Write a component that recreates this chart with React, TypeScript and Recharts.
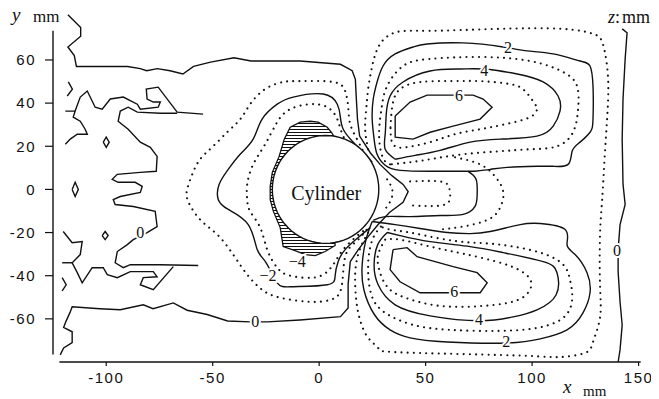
import React from "react";
import { ScatterChart, Scatter, XAxis, YAxis, ReferenceLine } from "recharts";

type Pt = [number, number];

const xTicks = [-100, -50, 0, 50, 100, 150];
const yTicks = [-60, -40, -20, 0, 20, 40, 60];

// z = 0 line in front of the cylinder (top edge -> pocket -> bottom edge)
const zeroFront: Pt[] = [
  [-118, 81], [-116, 79], [-112, 75], [-112, 71], [-118, 66], [-115, 62], [-114, 57], [-103, 57],
  [-90, 57], [-84, 56], [-81, 55], [-76, 56], [-70, 55], [-64, 53.5], [-59, 57], [-51, 59], [-40, 61],
  [-32, 59.5], [-9, 59.5], [10, 58], [15.5, 55], [17, 51], [17.4, 43], [18, 32.5], [19, 24.7], [24, 17],
  [28.6, 11.6], [34, 6.5], [39.4, 2.3], [41.8, -1], [39.4, -6], [33, -10.7], [27.7, -16.3], [23, -21.9],
  [18.3, -28], [14.6, -33.5], [13.6, -44], [13.6, -55], [10, -59], [-9, -60.5], [-24.4, -61.4],
  [-32.4, -61.4], [-43, -61], [-52.6, -58], [-62, -56], [-68.5, -52.6], [-78, -55.3], [-82.6, -53.5],
  [-93.4, -55.8], [-103, -55.3], [-116, -54.4], [-117, -57], [-119, -61.4], [-120, -64], [-116, -66],
  [-116, -71], [-120, -73.5], [-121.6, -76.7],
];

// wiggly z = 0 lines upstream
const leftWiggleTop: Pt[] = [
  [-119.2, 20.9], [-116.9, 23.3], [-113.6, 25.6], [-108.9, 25.6], [-109.9, 27.9], [-112.2, 31.6],
  [-115.5, 33.5], [-114.6, 36.3], [-112.2, 42.8], [-108.9, 45.6], [-105.2, 38.1], [-101.9, 37.2],
  [-98.1, 41.9], [-92, 42.8], [-85.4, 39.5], [-84, 37.2], [-75.6, 38.1], [-74.6, 40.5], [-77.9, 40.5],
  [-80.8, 41.9], [-81.2, 46.5], [-75.6, 47.4], [-66.7, 35.8], [-54.5, 34.9],
];
const leftStubTop: Pt[] = [[-119.2, 36.3], [-114.6, 36.3]];
const leftTickTop: Pt[] = [[-117.8, 49.8], [-115.9, 46.5], [-118.3, 43.3]];
const leftBlob: Pt[] = [
  [-66.7, 35.3], [-74.6, 35.3], [-85.4, 35.8], [-89.7, 38.1], [-93.4, 36.3], [-94.4, 31.6], [-89.7, 27.9],
  [-84, 21.9], [-79.3, 19.5], [-76.1, 15.3], [-76.5, 8.4], [-84, 7.9], [-94.8, 7], [-97.2, 4.7],
  [-94.4, 3.3], [-86.4, 3.3], [-83.1, 1.4], [-84, -1.4], [-93.4, -3.3], [-96.7, -4.7], [-95.8, -7],
  [-87.3, -7.9], [-77, -10.2], [-76.1, -17.2], [-80.8, -20], [-87.3, -23.3], [-90.1, -25.6],
  [-94.8, -28.8], [-95.8, -34], [-92, -36.3], [-88.7, -34.9], [-74.6, -34.9], [-56.8, -35.3],
];
const leftWiggleBottom: Pt[] = [
  [-120.2, -19.5], [-116, -24.7], [-111.3, -24.2], [-112.2, -30.2], [-116, -34], [-113.6, -38.6],
  [-111.3, -43.3], [-106.6, -36.3], [-101.4, -36.3], [-99.5, -39.5], [-94.8, -40.9], [-88.7, -38.1],
  [-77.9, -38.1], [-76.1, -40.5], [-82.6, -40.9], [-84, -44.2], [-77.9, -46.5], [-68.5, -35.8],
];
const leftStubBottom: Pt[] = [[-120.7, -34], [-116, -34]];
const leftTickBottom: Pt[] = [[-120.7, -40.9], [-118.8, -44.2], [-120.7, -47]];
const islandA: Pt[] = [[-101.4, 21.9], [-100, 24.2], [-98.6, 21.9], [-100, 19.5], [-101.4, 21.9]];
const islandB: Pt[] = [[-116, 0], [-114.6, 3.3], [-113.1, 0], [-114.6, -3.3], [-116, 0]];
const islandC: Pt[] = [[-101.9, -21.4], [-100.5, -19.5], [-99.1, -21.4], [-100.5, -23.3], [-101.9, -21.4]];

// negative levels around the front of the cylinder
const minus1: Pt[] = [
  [23.5, 13.5], [20.5, 18], [17.8, 23.3], [14.6, 30.2], [13.6, 38.6], [12.2, 45.6], [6.6, 49.8],
  [-8.9, 50.2], [-16.9, 49.8], [-25.4, 46.5], [-32.4, 39.5], [-37, 32.6], [-42.7, 27], [-49.8, 20],
  [-55.9, 14], [-59.6, 7], [-62, 0], [-61.5, -5.6], [-55.9, -14], [-47.9, -20.9], [-40.4, -30.2],
  [-33.8, -39.5], [-26.8, -46.5], [-18.3, -50.2], [-4.2, -52.1], [5.2, -51.2], [9.9, -47.4],
  [11.3, -38.1], [13.1, -28.8], [18.3, -23.3], [23, -17.7],
];
const minus2: Pt[] = [
  [24.9, 12.6], [20.7, 17.2], [16, 21.9], [11.3, 27.9], [9.9, 34], [8.5, 39.5], [1.9, 44.2],
  [-12.2, 42.8], [-19.7, 39.5], [-26.8, 32.6], [-31, 23.3], [-37.1, 16.3], [-42.7, 9.3], [-47, 2.3],
  [-47.4, -4.7], [-42.7, -9.3], [-33.3, -16.3], [-29.1, -27.9], [-24.9, -34], [-19.7, -43.3],
  [-12.2, -45.1], [3.8, -44.2], [7.5, -40], [8.9, -33.5], [12.2, -27.9], [18.3, -22.3], [24, -17.7],
];
const minus3: Pt[] = [
  [21.6, 14], [16, 18.6], [11.3, 24.7], [8.5, 32.6], [3.8, 38.1], [-4.2, 39.5], [-13.6, 37.2],
  [-19.7, 31.2], [-25.4, 20.9], [-31, 11.6], [-33.8, 2.3], [-33.8, -4.7], [-32.4, -10.2],
  [-27.7, -17.7], [-24.4, -27.9], [-19.7, -36.3], [-13.6, -40], [-2.8, -40.9], [3.8, -38.1],
  [7.5, -33.5], [11.3, -27.9], [16.9, -22.3], [21.6, -18.6],
];
const hatchRegion: Pt[] = [
  [7.5, 23.3], [6.1, 26], [3.8, 28.8], [-0.5, 31.2], [-4.2, 31.6], [-8.9, 31.2], [-13.6, 28.8],
  [-16.4, 23.3], [-18.8, 15.3], [-22, 7.9], [-23, 1.4], [-23, -4.7], [-21.5, -10.2], [-18.3, -17.7],
  [-16.9, -26.5], [-11.3, -28.4], [-6.6, -30.2], [-1.9, -30.7], [2.8, -28.8], [7.5, -26], [5, 0],
  [7.5, 23.3],
];

// positive lobes behind the cylinder
const upper2: Pt[] = [
  [73.2, 8.4], [64.8, 8.4], [52.1, 8.4], [38, 8.8], [31, 11.2], [27.2, 16.3], [25.8, 23.3], [24.9, 32.6],
  [25.4, 41.9], [27.2, 49.8], [30, 57.2], [35.7, 62.8], [44.1, 66], [50.7, 67.4], [67.6, 67.9],
  [86.4, 66], [97.7, 64.2], [109.9, 62.8], [122.5, 59.5], [127.2, 57.2], [128.6, 47.9], [128.6, 32.6],
  [127.2, 26.5], [122.5, 21.9], [118.8, 17.7], [116.9, 11.6], [109.9, 10.7], [102.3, 10.7],
  [88.3, 10.2], [80.3, 9.3], [73.2, 8.4],
];
const upper3: Pt[] = [
  [33.3, 11.6], [30, 14.5], [28.2, 23.3], [28.6, 32.6], [29.6, 39.5], [31.9, 47.9], [39.4, 57.2],
  [52.1, 60.5], [75.6, 61.4], [99.1, 59.5], [114.6, 54.4], [121.1, 47.9], [121.6, 37.2], [119.2, 26.5],
  [111.7, 20], [99.1, 18.6], [85, 17.7], [67.6, 16.3], [52.1, 14], [42.7, 12.6], [33.3, 11.6],
];
const upper4: Pt[] = [
  [35.7, 14], [31, 18.6], [31, 25.6], [31.5, 34.9], [33.3, 43.3], [39.4, 49.8], [52.1, 54.9],
  [66.2, 55.8], [77, 55.8], [93, 53.5], [105.2, 49.8], [112.2, 43.3], [113.1, 36.3], [109.9, 29.3],
  [102.3, 24.7], [85, 23.3], [70.9, 21.9], [56.8, 18.1], [45.1, 15.8], [35.7, 14],
];
const upper5: Pt[] = [
  [33.5, 28.8], [34.5, 39.5], [38, 46.5], [47.4, 49.8], [61.5, 50.2], [75.6, 50.2], [89.7, 48.8],
  [96.7, 45.6], [101.4, 39.5], [102.3, 37.2], [99.1, 33.5], [87.3, 30.2], [75.6, 27.9], [63.8, 25.6],
  [52.1, 21.9], [40.4, 19.5], [36, 19.8], [34, 22.5], [33.5, 28.8],
];
const upper6: Pt[] = [
  [35.7, 34], [35.7, 24.2], [44.1, 23.3], [52.1, 26.5], [62.9, 29.3], [75.6, 32.6], [81.2, 38.1],
  [77, 41.9], [72.3, 43.7], [62.9, 43.7], [50.7, 43.7], [42.7, 40.5], [35.7, 34],
];
const lower2: Pt[] = [
  [24.9, -14.9], [22, -23.3], [20.2, -34.9], [21, -46.5], [26, -58.1], [33.3, -65.1], [42.7, -68.8],
  [60.1, -70.7], [88.3, -71.2], [103.8, -69.3], [116.4, -65.1], [123.9, -57.2], [127.2, -47.9],
  [125.8, -38.6], [120.2, -30.2], [116.4, -25.6], [115.5, -18.6], [103.8, -15.8], [94.4, -16.3],
  [80.3, -19.5], [70.9, -20.5], [60.1, -20], [47.4, -18.1], [35.7, -16.3], [24.9, -14.9],
];
const lower3: Pt[] = [
  [29, -17.2], [25, -23.3], [23, -34.9], [24.5, -48.8], [31, -57.2], [44.1, -62.8], [61.5, -65.1],
  [83.6, -65.6], [102.3, -64.2], [114.6, -59.5], [118.8, -51.2], [117.8, -41.9], [114.6, -34.9],
  [103.8, -29.3], [85, -25.6], [70.9, -24.6], [56.8, -22.8], [42.7, -20], [33.3, -18.6], [29, -17.2],
];
const lower4: Pt[] = [
  [32, -20], [27.5, -25.6], [25.8, -34.9], [27.7, -44.2], [35.7, -53.5], [52.1, -58.6], [75.1, -60.9],
  [91.1, -59.1], [102.3, -55.8], [111.3, -48.8], [111.7, -38.6], [105.2, -33.5], [86.4, -29.3],
  [70.9, -26.5], [52.1, -24.2], [38, -21.4], [32, -20],
];
const lower5: Pt[] = [
  [31, -23.3], [27.7, -30.2], [28.2, -37.2], [31.9, -45.1], [40.4, -50.2], [56.8, -54], [77, -54],
  [93.4, -51.2], [99.5, -45.1], [97.2, -39.5], [86.4, -34.4], [67.6, -29.8], [52.1, -26.5], [38, -23.3],
  [31, -23.3],
];
const lower6: Pt[] = [
  [34.7, -27.9], [33.3, -37.2], [38, -42.8], [47.4, -47.9], [61.5, -47.9], [75.6, -47.9], [78.9, -43.3],
  [74.2, -38.6], [62.9, -35.8], [46, -31.2], [41.3, -27], [34.7, -27.9],
];

// pocket behind the cylinder
const pocketSolid: Pt[] = [
  [69.9, 8.4], [73.7, 4.7], [74.2, -2.3], [73.2, -7.9], [67.6, -11.6], [56.8, -12.1], [42.7, -12.6],
  [31, -12.6], [25.4, -14.4],
];
const pocketInner: Pt[] = [[42.7, 3.7], [56.8, 3.7], [61, 0.9], [61.5, -3.7], [57.7, -7.4], [42.7, -7.4]];
const pocketNear: Pt[] = [[31.9, 4.7], [34.3, 0], [33.8, -4.7], [31.5, -8.4]];
const pocketOuter: Pt[] = [
  [63.8, 14.9], [75.6, 11.6], [82.6, 6], [86.4, -0.9], [85, -8.4], [79.3, -14], [67.6, -17.2], [56.8, -18.6],
];
const plus1: Pt[] = [
  [23, 18.6], [21.6, 27.9], [22.1, 37.2], [23, 46.5], [24.9, 57.2], [28.6, 67.4], [36.6, 73], [52.1, 73.5],
  [83.6, 74.4], [114.6, 74.4], [128.6, 72.1], [132.9, 68.4], [135.2, 57.2], [135.7, 41.9], [134.3, 18.6],
  [132.9, -4.7], [131.9, -20.9], [131.9, -44.2], [131.9, -59.5], [128.6, -70.7], [124.9, -75.8],
  [113.1, -77.7], [99.1, -77.2], [66.2, -76.3], [33.3, -75.3], [27.7, -73.5], [23, -68.8], [19.2, -60.5],
  [17.4, -51.2], [16.9, -39.5], [18.3, -30.2], [21.1, -23.3], [23.9, -18.6],
];
const zeroRear: Pt[] = [
  [142.3, 74.4], [144.6, 72.6], [143.7, 60.5], [142.7, 41.9], [142.3, 23.3], [142.7, 2.3], [143.7, -7],
  [141.3, -16.3], [140.4, -27.9], [140.4, -38.1], [141.3, -52.1], [142.3, -62.8], [141.3, -74.4],
  [140.4, -80],
];

const cylinder = { x: 3, y: 0, r: 25 };

const contourLabels = [
  { x: -84, y: -20, text: "0" },
  { x: -30, y: -61.4, text: "0" },
  { x: -24, y: -40, text: "\u22122" },
  { x: -10.3, y: -33.5, text: "\u22124" },
  { x: 88.7, y: 65.6, text: "2" },
  { x: 77.5, y: 54.9, text: "4" },
  { x: 65.7, y: 43.3, text: "6" },
  { x: 63.4, y: -47.4, text: "6" },
  { x: 75.1, y: -60.5, text: "4" },
  { x: 87.8, y: -70.7, text: "2" },
  { x: 139.9, y: -28.4, text: "0" },
];
const cylinderLabel = [{ x: 3.3, y: -1.5, text: "Cylinder" }];

type Series = { pts: Pt[]; dotted?: boolean; smooth?: boolean };

const series: Series[] = [
  { pts: zeroFront },
  { pts: leftWiggleTop },
  { pts: leftStubTop },
  { pts: leftTickTop },
  { pts: leftBlob },
  { pts: leftWiggleBottom },
  { pts: leftStubBottom },
  { pts: leftTickBottom },
  { pts: islandA },
  { pts: islandB },
  { pts: islandC },
  { pts: minus1, dotted: true, smooth: true },
  { pts: minus2, smooth: true },
  { pts: minus3, dotted: true, smooth: true },
  { pts: plus1, dotted: true, smooth: true },
  { pts: upper2, smooth: true },
  { pts: upper3, dotted: true, smooth: true },
  { pts: upper4, smooth: true },
  { pts: upper5, dotted: true, smooth: true },
  { pts: upper6 },
  { pts: lower2, smooth: true },
  { pts: lower3, dotted: true, smooth: true },
  { pts: lower4, smooth: true },
  { pts: lower5, dotted: true, smooth: true },
  { pts: lower6 },
  { pts: pocketSolid, smooth: true },
  { pts: pocketInner, dotted: true, smooth: true },
  { pts: pocketNear, dotted: true, smooth: true },
  { pts: pocketOuter, dotted: true, smooth: true },
  { pts: zeroRear },
];

const rows = (pts: Pt[]) => pts.map(([x, y]) => ({ x, y }));

const cylinderRows = Array.from({ length: 73 }, (_, i) => {
  const a = (i * 5 * Math.PI) / 180;
  return { x: cylinder.x + cylinder.r * Math.cos(a), y: cylinder.y + cylinder.r * Math.sin(a) };
});

const ink = "#111";
const solidLine = { stroke: ink, strokeWidth: 1.4, fill: "none" };
const dottedLine = {
  stroke: ink,
  strokeWidth: 2.1,
  strokeDasharray: "0.01 6.2",
  strokeLinecap: "round" as const,
  fill: "none",
};
const tickStyle = { fill: ink, fontSize: 15, fontFamily: "Liberation Sans, Arial, sans-serif", letterSpacing: 1.5 };
const serif = "Liberation Serif, 'DejaVu Serif', serif";

const noDot = () => <g />;

const ContourLabel = (props: any) => (
  <text
    x={props.cx}
    y={props.cy}
    textAnchor="middle"
    dominantBaseline="central"
    fontFamily={serif}
    fontSize={16}
    fill={ink}
    stroke="#fff"
    strokeWidth={4}
    paintOrder="stroke"
  >
    {props.payload.text}
  </text>
);

const CylinderText = (props: any) => (
  <text x={props.cx} y={props.cy} textAnchor="middle" dominantBaseline="central" fontFamily={serif} fontSize={20} fill={ink}>
    {props.payload.text}
  </text>
);

export default function App() {
  return (
    <div style={{ position: "relative", width: 651, height: 391, background: "#fff" }}>
      <ScatterChart width={651} height={391} margin={{ top: 4.5, right: 18.3, bottom: 7, left: 5 }}>
        <defs>
          <pattern id="hatch" patternUnits="userSpaceOnUse" width="6" height="3">
            <line x1="0" y1="1.5" x2="6" y2="1.5" stroke={ink} strokeWidth="1" />
          </pattern>
        </defs>
        <XAxis
          type="number"
          dataKey="x"
          domain={[-125, 151]}
          ticks={xTicks}
          allowDataOverflow
          interval={0}
          axisLine={false}
          tickLine={{ stroke: ink, strokeWidth: 1.2 }}
          tickSize={4}
          tickMargin={6}
          tick={tickStyle}
          height={30}
        />
        <YAxis
          type="number"
          dataKey="y"
          domain={[-80, 82]}
          ticks={yTicks}
          allowDataOverflow
          interval={0}
          axisLine={false}
          tickLine={{ stroke: ink, strokeWidth: 1.2 }}
          tickSize={8}
          tickMargin={9}
          tick={tickStyle}
          width={40}
        />
        <ReferenceLine segment={[{ x: -122, y: -80 }, { x: 151, y: -80 }]} stroke={ink} strokeWidth={1.4} ifOverflow="visible" />
        <ReferenceLine segment={[{ x: -125, y: -76.5 }, { x: -125, y: 73.5 }]} stroke={ink} strokeWidth={1.4} ifOverflow="visible" />
        {series.map((s, i) => (
          <Scatter
            key={i}
            data={rows(s.pts)}
            shape={noDot}
            line={s.dotted ? dottedLine : solidLine}
            lineType="joint"
            lineJointType={s.smooth ? "natural" : "linear"}
            isAnimationActive={false}
          />
        ))}
        <Scatter
          data={rows(hatchRegion)}
          shape={noDot}
          line={{ stroke: ink, strokeWidth: 1.3, fill: "url(#hatch)" }}
          lineType="joint"
          lineJointType="linear"
          isAnimationActive={false}
        />
        <Scatter
          data={cylinderRows}
          shape={noDot}
          line={{ stroke: ink, strokeWidth: 1.4, fill: "#fff" }}
          lineType="joint"
          lineJointType="linear"
          isAnimationActive={false}
        />
        <Scatter data={cylinderLabel} shape={CylinderText} isAnimationActive={false} />
        <Scatter data={contourLabels} shape={ContourLabel} isAnimationActive={false} />
      </ScatterChart>
      {/* axis captions, placed in page coordinates */}
      <svg
        width={659}
        height={399}
        style={{ position: "absolute", left: -8, top: -8, pointerEvents: "none", overflow: "visible" }}
      >
        <text x={12} y={21} fontFamily={serif} fontSize={19} fontStyle="italic" fill={ink}>y</text>
        <text x={33} y={22} fontFamily={serif} fontSize={17} fill={ink}>mm</text>
        <text x={608} y={23} fontFamily={serif} fontSize={18} fill={ink}>
          <tspan fontStyle="italic">z</tspan>:<tspan dx={2}>mm</tspan>
        </text>
        <text x={563} y={393} fontFamily={serif} fontSize={19} fontStyle="italic" fill={ink}>x</text>
        <text x={583} y={396} fontFamily={serif} fontSize={15} fill={ink}>mm</text>
      </svg>
    </div>
  );
}
